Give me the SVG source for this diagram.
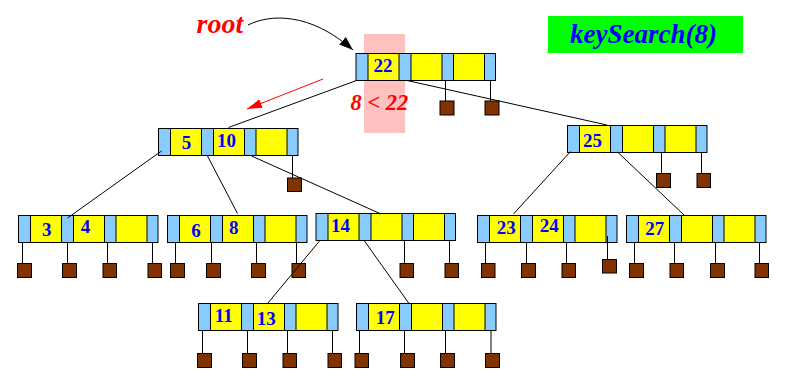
<svg xmlns="http://www.w3.org/2000/svg" xmlns:xlink="http://www.w3.org/1999/xlink" width="786" height="383" viewBox="0 0 786 383">
<style>
.bl{fill:#88ccff;stroke:#000;stroke-width:1}
.ye{fill:#ffff00;stroke:#000;stroke-width:1}
.sq{fill:#803300;stroke:#000;stroke-width:1}
.pl{stroke:#000;stroke-width:1;fill:none}
.k{font-family:"Liberation Serif","Times New Roman",serif;font-weight:bold;font-size:19px;fill:#0000ff;text-anchor:middle}
.lnk{stroke:#000;stroke-width:1;fill:none}
</style>
<defs>
<g id="nd">
<rect class="bl" x="0" y="0" width="139.5" height="27"/>
<rect class="ye" x="12" y="0" width="31" height="27"/>
<rect class="ye" x="55" y="0" width="31" height="27"/>
<rect class="ye" x="97.5" y="0" width="31" height="27"/>
</g>
<marker id="ab" markerUnits="userSpaceOnUse" markerWidth="16" markerHeight="12" refX="14" refY="5" orient="auto">
<path d="M0,0 L14,5 L0,10 Z" fill="#000"/>
</marker>
<marker id="ar" markerUnits="userSpaceOnUse" markerWidth="18" markerHeight="12" refX="15" refY="4.5" orient="auto">
<path d="M0,0 L15,4.5 L0,9 Z" fill="#ff0000"/>
</marker>
</defs>
<rect width="786" height="383" fill="#fff"/>
<rect x="364" y="34" width="41" height="99" fill="#ffc0c0"/>
<g id="title">
<rect x="548" y="16" width="195" height="37" fill="#00ff00"/>
<text x="570" y="42.5" font-family="Liberation Serif,serif" font-weight="bold" font-style="italic" font-size="27" fill="#0000ff">keySearch(8)</text>
</g>
<g id="rootlabel">
<text x="196.5" y="33" font-family="Liberation Serif,serif" font-weight="bold" font-style="italic" font-size="28" fill="#ff0000">root</text>
</g>
<text x="350.5" y="110" font-family="Liberation Serif,serif" font-weight="bold" font-style="italic" font-size="22.5" fill="#ff0000">8 &lt; 22</text>

<g id="node-22">
<use xlink:href="#nd" x="356" y="53.5"/>
<text class="k" x="383" y="72">22</text>
<line class="pl" x1="445.5" y1="80.5" x2="445.5" y2="101"/><rect class="sq" x="440" y="101" width="14" height="14"/>
<line class="pl" x1="490.5" y1="80.5" x2="490.5" y2="101"/><rect class="sq" x="485" y="101" width="14" height="14"/>
</g>
<g id="node-5-10">
<use xlink:href="#nd" x="158.5" y="128.5"/>
<text class="k" x="186.5" y="149.3">5</text>
<text class="k" x="226.5" y="147.3">10</text>
<line class="pl" x1="292.5" y1="155.5" x2="292.5" y2="178"/><rect class="sq" x="287.5" y="178" width="14" height="13.5"/>
</g>
<g id="node-25">
<use xlink:href="#nd" x="567.5" y="125.5"/>
<text class="k" x="592.5" y="147.3">25</text>
<line class="pl" x1="661.5" y1="152.5" x2="661.5" y2="173.5"/><rect class="sq" x="656.5" y="173.5" width="14" height="14"/>
<line class="pl" x1="701.5" y1="152.5" x2="701.5" y2="173.5"/><rect class="sq" x="697" y="173.5" width="13.5" height="14"/>
</g>
<g id="node-3-4">
<use xlink:href="#nd" x="18.5" y="215.5"/>
<text class="k" x="46.7" y="235.7">3</text>
<text class="k" x="85.5" y="233.3">4</text>
<line class="pl" x1="22.5" y1="242.5" x2="22.5" y2="263.5"/><rect class="sq" x="17.5" y="263.5" width="14" height="14"/>
<line class="pl" x1="67.5" y1="242.5" x2="67.5" y2="263.5"/><rect class="sq" x="62.5" y="263.5" width="14" height="14"/>
<line class="pl" x1="107.5" y1="242.5" x2="107.5" y2="263.5"/><rect class="sq" x="103" y="263.5" width="13.5" height="14"/>
<line class="pl" x1="152.5" y1="242.5" x2="152.5" y2="263.5"/><rect class="sq" x="148" y="263.5" width="13.5" height="14"/>
</g>
<g id="node-6-8">
<use xlink:href="#nd" x="167.5" y="215.5"/>
<text class="k" x="196" y="237.3">6</text>
<text class="k" x="233.7" y="234.3">8</text>
<line class="pl" x1="175.5" y1="242.5" x2="175.5" y2="263.5"/><rect class="sq" x="170.5" y="263.5" width="14" height="14"/>
<line class="pl" x1="211.5" y1="242.5" x2="211.5" y2="263.5"/><rect class="sq" x="206.5" y="263.5" width="14" height="14"/>
<line class="pl" x1="256.5" y1="242.5" x2="256.5" y2="263.5"/><rect class="sq" x="251.5" y="263.5" width="14" height="14"/>
<line class="pl" x1="296.5" y1="242.5" x2="296.5" y2="263.5"/><rect class="sq" x="292" y="263.5" width="13.5" height="14"/>
</g>
<g id="node-14">
<use xlink:href="#nd" x="316" y="213.5"/>
<text class="k" x="340.5" y="232.3">14</text>
<line class="pl" x1="404.5" y1="240.5" x2="404.5" y2="263.5"/><rect class="sq" x="400" y="263.5" width="13.5" height="14"/>
<line class="pl" x1="449.5" y1="240.5" x2="449.5" y2="263.5"/><rect class="sq" x="445" y="263.5" width="13.5" height="14"/>
</g>
<g id="node-23-24">
<use xlink:href="#nd" x="477.5" y="215.5"/>
<text class="k" x="506.3" y="234">23</text>
<text class="k" x="549.2" y="232.3">24</text>
<line class="pl" x1="485.5" y1="242.5" x2="485.5" y2="263.5"/><rect class="sq" x="481.5" y="263.5" width="13.5" height="14"/>
<line class="pl" x1="526.5" y1="242.5" x2="526.5" y2="263.5"/><rect class="sq" x="521.5" y="263.5" width="14" height="14"/>
<line class="pl" x1="566.5" y1="242.5" x2="566.5" y2="263.5"/><rect class="sq" x="562" y="263.5" width="13.5" height="14"/>
<line class="pl" x1="607.5" y1="236" x2="607.5" y2="259.5"/><rect class="sq" x="602.5" y="259.5" width="14" height="13.5"/>
</g>
<g id="node-27">
<use xlink:href="#nd" x="626.5" y="215.5"/>
<text class="k" x="654.8" y="235">27</text>
<line class="pl" x1="634.5" y1="242.5" x2="634.5" y2="263.5"/><rect class="sq" x="629.5" y="263.5" width="14" height="14"/>
<line class="pl" x1="674.5" y1="242.5" x2="674.5" y2="263.5"/><rect class="sq" x="670" y="263.5" width="13.5" height="14"/>
<line class="pl" x1="715.5" y1="242.5" x2="715.5" y2="263.5"/><rect class="sq" x="710.5" y="263.5" width="14" height="14"/>
<line class="pl" x1="759.5" y1="242.5" x2="759.5" y2="263.5"/><rect class="sq" x="755" y="263.5" width="13.5" height="14"/>
</g>
<g id="node-11-13">
<use xlink:href="#nd" x="198.5" y="303.5"/>
<text class="k" x="223.7" y="322.3">11</text>
<text class="k" x="266.3" y="325">13</text>
<line class="pl" x1="202.5" y1="330.5" x2="202.5" y2="353.5"/><rect class="sq" x="197.5" y="353.5" width="14" height="14"/>
<line class="pl" x1="247.5" y1="330.5" x2="247.5" y2="353.5"/><rect class="sq" x="242.5" y="353.5" width="14" height="14"/>
<line class="pl" x1="287.5" y1="330.5" x2="287.5" y2="353.5"/><rect class="sq" x="283" y="353.5" width="13.5" height="14"/>
<line class="pl" x1="332.5" y1="330.5" x2="332.5" y2="353.5"/><rect class="sq" x="328" y="353.5" width="13.5" height="14"/>
</g>
<g id="node-17">
<use xlink:href="#nd" x="356.5" y="303.5"/>
<text class="k" x="385.3" y="323.7">17</text>
<line class="pl" x1="359.5" y1="330.5" x2="359.5" y2="353.5"/><rect class="sq" x="355" y="353.5" width="13.5" height="14"/>
<line class="pl" x1="404.5" y1="330.5" x2="404.5" y2="353.5"/><rect class="sq" x="400.5" y="353.5" width="14" height="14"/>
<line class="pl" x1="445.5" y1="330.5" x2="445.5" y2="353.5"/><rect class="sq" x="440.5" y="353.5" width="14" height="14"/>
<line class="pl" x1="491" y1="330.5" x2="491" y2="353.5"/><rect class="sq" x="485.5" y="353.5" width="14" height="14"/>
</g>

<g id="connectors">
<path class="lnk" d="M248,25 C270,14 310,12 353,50" marker-end="url(#ab)"/>
<line x1="323" y1="79" x2="247" y2="109" stroke="#ff0000" stroke-width="1" marker-end="url(#ar)"/>
<line class="lnk" x1="356.5" y1="80.5" x2="228.5" y2="127.5"/>
<line class="lnk" x1="407" y1="80.5" x2="607" y2="125"/>
<line class="lnk" x1="161.5" y1="151" x2="67.5" y2="218"/>
<line class="lnk" x1="207.5" y1="156" x2="237.5" y2="213.5"/>
<line class="lnk" x1="251.5" y1="156" x2="381" y2="214"/>
<line class="lnk" x1="570.5" y1="151.5" x2="513.5" y2="214"/>
<line class="lnk" x1="617.5" y1="152" x2="684" y2="215"/>
<line class="lnk" x1="319.5" y1="241" x2="267.5" y2="303.5"/>
<line class="lnk" x1="364.5" y1="241" x2="409" y2="303.5"/>
</g>
</svg>
